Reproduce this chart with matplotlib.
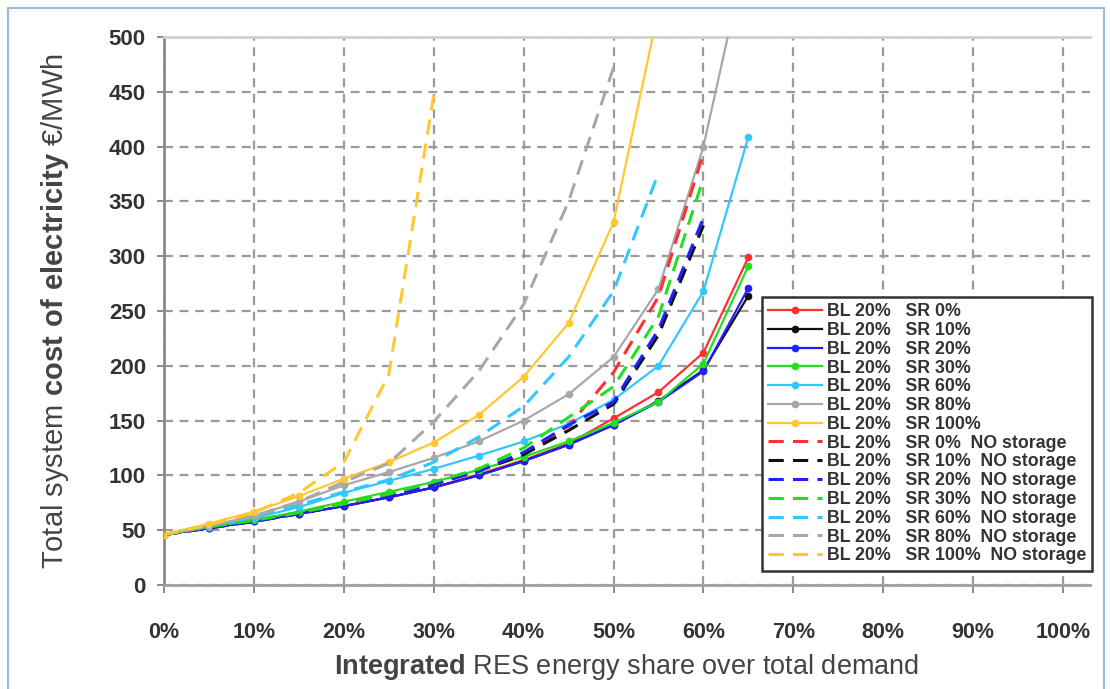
import matplotlib
matplotlib.use("Agg")
import matplotlib.pyplot as plt
from matplotlib.patches import Rectangle

plt.rcParams["font.family"] = ["Liberation Sans", "DejaVu Sans"]
plt.rcParams["mathtext.fontset"] = "custom"
plt.rcParams["mathtext.rm"] = "Liberation Sans"
plt.rcParams["mathtext.bf"] = "Liberation Sans:bold"

# RES share (%) and total system cost (EUR/MWh)
x_full = [0, 5, 10, 15, 20, 25, 30, 35, 40, 45, 50, 55, 60, 65]

sr0 = [46, 52, 58, 65, 72, 80, 89, 101, 114, 129, 152, 176, 212, 299]
sr10 = [46, 52, 58, 65, 72, 80, 89, 100, 113, 128, 146, 168, 196, 264]
sr20 = [46, 52, 58, 65, 72, 80, 89, 100, 113, 128, 146, 167, 195, 271]
sr30 = [46, 53, 59, 67, 76, 85, 94, 105, 117, 131, 148, 167, 202, 291]
sr60 = [46, 53, 61, 71, 84, 95, 106, 118, 131, 147, 169, 200, 268, 409]
sr80 = [46, 54, 63, 76, 91, 103, 116, 131, 150, 174, 208, 270, 400, 585]
sr100 = [46, 56, 67, 81, 97, 112, 130, 155, 190, 239, 331, 525]

ns0 = [46, 52, 59, 66, 74, 83, 93, 105, 120, 145, 194, 263, 394]
ns10 = [46, 52, 58, 65, 73, 82, 92, 104, 119, 141, 165, 228, 328]
ns20 = [46, 52, 58, 65, 73, 82, 92, 104, 121, 146, 167, 233, 335]
ns30 = [46, 53, 59, 66, 74, 83, 94, 106, 125, 153, 181, 245, 371]
ns60 = [46, 54, 62, 73, 85, 96, 112, 135, 163, 208, 268, 376]
ns80 = [46, 54, 63, 76, 94, 111, 149, 195, 256, 350, 472]
ns100 = [46, 55, 66, 84, 112, 192, 447]

sr_names = ["0%", "10%", "20%", "30%", "60%", "80%", "100%"]
colors = ["#ff3030", "#101010", "#2020ff", "#20e020", "#30c8ff", "#a8a8a8", "#ffc830"]
solid = [sr0, sr10, sr20, sr30, sr60, sr80, sr100]
dashed = [ns0, ns10, ns20, ns30, ns60, ns80, ns100]

fig = plt.figure(figsize=(11.1, 6.89), dpi=100)
ax = fig.add_axes([164 / 1110, 1 - 585 / 689, (1090 - 164) / 1110, (585 - 37) / 689])

for name, c, ys in zip(sr_names, colors, solid):
    ax.plot(x_full[:len(ys)], ys, "-", color=c, lw=1.6, marker="o", ms=4.5,
            label=f"BL 20%   SR {name}", zorder=3)
for name, c, ys in zip(sr_names, colors, dashed):
    ax.plot(x_full[:len(ys)], ys, "--", color=c, lw=2.2, dashes=(5, 3),
            label=f"BL 20%   SR {name}  NO storage", zorder=3)

ax.set_xlim(0, 103)
ax.set_ylim(0, 500)
ax.set_xticks(range(0, 101, 10))
ax.set_xticklabels([f"{v}%" for v in range(0, 101, 10)])
ax.set_yticks(range(0, 501, 50))
ax.grid(True, color="#9a9a9a", ls=(0, (4, 3)), lw=1.6)
ax.set_axisbelow(True)

ax.spines["right"].set_visible(False)
ax.spines["left"].set_color("#8a8a8a")
ax.spines["left"].set_linewidth(2)
ax.spines["bottom"].set_color("#a0a0a0")
ax.spines["bottom"].set_linewidth(2)
ax.spines["top"].set_color("#d0d0d0")
ax.spines["top"].set_linewidth(2)

ax.tick_params(axis="y", length=5, width=1.2, color="#777", pad=8,
               labelsize=16, labelcolor="#333")
ax.tick_params(axis="x", length=6, width=1.2, color="#777", pad=21,
               labelsize=15.5, labelcolor="#333")
for t in ax.get_yticklabels() + ax.get_xticklabels():
    t.set_fontweight("bold")

ax.set_ylabel(r"Total system $\mathbf{cost\ of\ electricity}$ €/MWh",
              fontsize=21, color="#444", labelpad=27)
ax.set_xlabel(r"$\mathbf{Integrated}$ RES energy share over total demand",
              fontsize=19.5, color="#444", labelpad=6)

leg = ax.legend(loc="upper left", bbox_to_anchor=(762 / 1110, 1 - 297 / 689),
                bbox_transform=fig.transFigure, ncol=1, fontsize=12.8,
                labelspacing=0.1, handlelength=3.0, handletextpad=0.3,
                borderpad=0.35, borderaxespad=0, fancybox=False,
                framealpha=1, edgecolor="#333")
leg.get_frame().set_linewidth(1.8)
for t in leg.get_texts():
    t.set_fontweight("bold")
    t.set_color("#333")

fig.patches.append(Rectangle((8 / 1110, -0.05), (1104 - 8) / 1110, 1.05 - 8 / 689,
                             transform=fig.transFigure, fill=False,
                             edgecolor="#9db8df", lw=1.5))

fig.savefig("out.png", dpi=100)
